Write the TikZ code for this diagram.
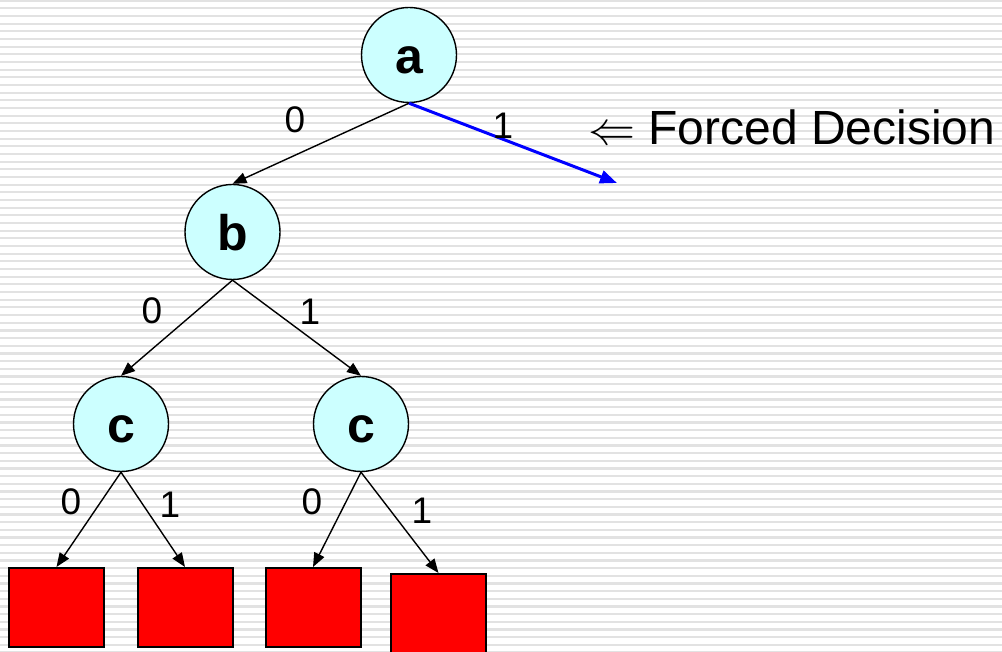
\documentclass[tikz,border=0pt]{standalone}
\usepackage{graphicx}
\usepackage{fontspec}
\setmainfont{Liberation Sans}
\usetikzlibrary{arrows.meta}
\definecolor{nodefill}{HTML}{CCFFFF}
\definecolor{stripecol}{HTML}{E2E2E2}
\definecolor{leafred}{HTML}{FF0000}
\definecolor{forceblue}{HTML}{0000FF}
\newcommand{\bigleftarrowsym}{{\fontsize{10}{12}\selectfont\scalebox{4.7}{$\Leftarrow$}}}
\begin{document}
\begin{tikzpicture}[x=1pt,y=-1pt,
  vnode/.style={circle, draw, line width=1.4pt, fill=nodefill, minimum size=95pt, inner sep=0pt,
    font=\fontsize{50}{60}\selectfont\bfseries, text height=37pt, text depth=0pt},
  leaf/.style={rectangle, draw, line width=2pt, fill=leafred, minimum width=95pt, minimum height=79pt, inner sep=0pt},
  edge/.style={line width=1.4pt, -{Triangle[length=14pt,width=11pt]}},
  forced/.style={line width=3pt, forceblue, -{Triangle[length=17pt,width=13pt]}},
  lab/.style={inner sep=0pt, font=\fontsize{37}{44}\selectfont},
  stripe/.style={line width=2.2pt, stripecol}]
\useasboundingbox (0,0) rectangle (1002,652);
\clip (0,0) rectangle (1002,652);
\fill[white] (0,0) rectangle (1002,652);
\foreach \i in {0,...,85} {
  \draw[stripe] (0,{0.6+7.67*\i}) -- (1002,{0.6+7.67*\i});
}
% nodes
\node[vnode] (a) at (409,55) {a};
\node[vnode] (b) at (232.5,232) {b};
\node[vnode] (c1) at (121,424) {c};
\node[vnode] (c2) at (361,424) {c};
\node[leaf] (s1) at (56.5,607.5) {};
\node[leaf] (s2) at (185,607.5) {};
\node[leaf] (s3) at (313,607.5) {};
\node[leaf] (s4) at (438.5,613.5) {};
\coordinate (fd) at (617,183);
% edges
\draw[edge] (a.south) -- (b.north);
\draw[forced] (a.south) -- (fd);
\draw[edge] (b.south) -- (c1.north);
\draw[edge] (b.south) -- (c2.north);
\draw[edge] (c1.south) -- (s1.north);
\draw[edge] (c1.south) -- (s2.north);
\draw[edge] (c2.south) -- (s3.north);
\draw[edge] (c2.south) -- (s4.north);
% labels
\node[lab] (l1) at (295,120) {0};
\node[lab] (l2) at (503,126) {1};
\node[lab] (l3) at (152,311) {0};
\node[lab] (l4) at (310,312) {1};
\node[lab] (l5) at (71,502) {0};
\node[lab] (l6) at (170,505) {1};
\node[lab] (l7) at (312,502) {0};
\node[lab] (l8) at (422,511) {1};
\node[anchor=base west, inner sep=0pt, font=\fontsize{48}{57}\selectfont] (fdtext) at (588,145) {\bigleftarrowsym\ Forced Decision};
\end{tikzpicture}
\end{document}
